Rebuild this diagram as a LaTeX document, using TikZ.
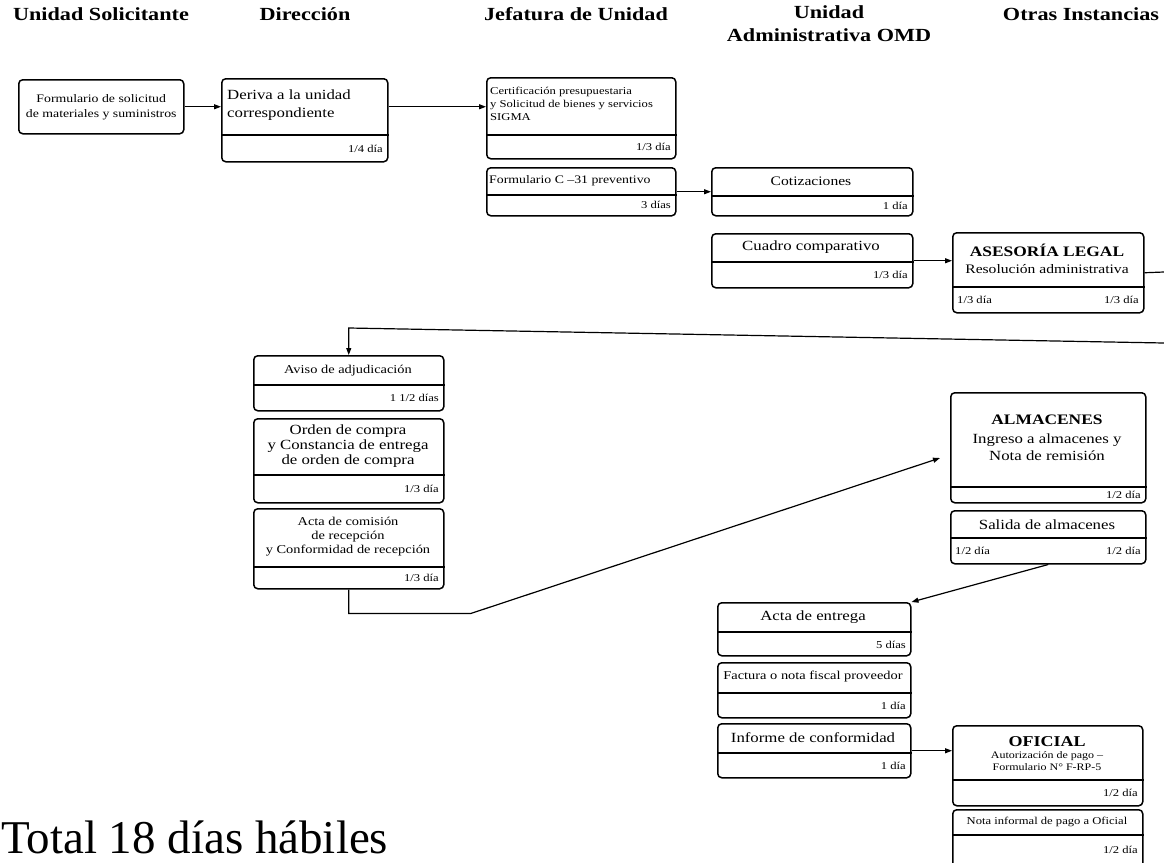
\documentclass[tikz,border=0pt]{standalone}
\usepackage{fontspec}
\setmainfont{Liberation Serif}[FakeStretch=1.2]
\newfontfamily\totalfont{Liberation Serif}
\usetikzlibrary{arrows.meta}

\tikzset{
  caja/.style={draw, rounded corners=4pt, line width=1.5pt},
  linea/.style={line width=1.5pt},
  flecha/.style={line width=1.2pt, -{Triangle[length=7pt,width=5pt]}},
  titulo/.style={font=\fontsize{18.5}{23}\selectfont\bfseries, inner sep=0pt},
  txt/.style={font=\fontsize{13}{15}\selectfont, align=center, inner sep=0pt},
  chico/.style={font=\fontsize{10.5}{13}\selectfont, align=left, inner sep=0pt},
  dur/.style={font=\fontsize{10.5}{12}\selectfont, inner sep=0pt},
  jefe/.style={font=\fontsize{14.5}{16}\selectfont\bfseries, inner sep=0pt}
}

% box with a dividing line: name, x1, y1, x2, y2, y of divider
\newcommand{\caja}[6]{%
  \node[caja, minimum width={#4-#2}, minimum height={#5-#3}, anchor=north west] (#1) at (#2,#3) {};
  \draw[linea] (#1.west |- 0,#6) -- (#1.east |- 0,#6);
}

\begin{document}
\begin{tikzpicture}[x=1pt,y=-1pt]
\useasboundingbox (0,0) rectangle (1164,862);

% column titles
\node[titulo, anchor=base] (t-sol) at (101,20) {Unidad Solicitante};
\node[titulo, anchor=base] (t-dir) at (305,20) {Dirección};
\node[titulo, anchor=base] (t-jef) at (576,20) {Jefatura de Unidad};
\node[titulo, anchor=north, align=center] (t-omd) at (829,5) {Unidad\\Administrativa OMD};
\node[titulo, anchor=base] (t-otr) at (1081,20) {Otras Instancias};

% Unidad Solicitante
\node[caja, minimum width=165, minimum height=54, anchor=north west] (sol) at (18,79) {};
\node[txt, font=\fontsize{11.5}{15}\selectfont] (sol-t) at (sol.center) {Formulario de solicitud\\de materiales y suministros};

% Direccion
\caja{der}{221}{78}{387}{161}{135}
\node[txt, align=left, anchor=west, font=\fontsize{14}{18}\selectfont] (der-t) at (227,105) {Deriva a la unidad\\correspondiente};
\node[dur, anchor=east] (der-d) at (383,149) {1/4 día};

% Jefatura de Unidad
\caja{cert}{486}{77}{675}{158}{135}
\node[chico, anchor=west] (cert-t) at (490,104) {Certificación presupuestaria\\y Solicitud de bienes y servicios\\SIGMA};
\node[dur, anchor=east] (cert-d) at (671,147) {1/3 día};

\caja{form}{486}{167}{675}{215}{195}
\node[chico, anchor=west, font=\fontsize{11.5}{13}\selectfont] (form-t) at (489,181) {Formulario C --31 preventivo};
\node[dur, anchor=east] (form-d) at (671,205) {3 días};

% Unidad Administrativa OMD
\caja{coti}{711}{167}{912}{215}{196}
\node[txt] (coti-t) at (811,181) {Cotizaciones};
\node[dur, anchor=east] (coti-d) at (908,206) {1 día};

\caja{cuad}{711}{233}{912}{287}{262}
\node[txt, font=\fontsize{14}{16}\selectfont] (cuad-t) at (811,247) {Cuadro comparativo};
\node[dur, anchor=east] (cuad-d) at (908,275) {1/3 día};

% Otras Instancias
\caja{ases}{952}{232}{1143}{312}{287}
\node[jefe] (ases-t) at (1047,250) {ASESORÍA LEGAL};
\node[txt] (ases-s) at (1047,269) {Resolución administrativa};
\node[dur, anchor=west] (ases-a) at (957,300) {1/3 día};
\node[dur, anchor=east] (ases-b) at (1139,300) {1/3 día};

% Direccion, second part
\caja{aviso}{253}{355}{443}{410}{385}
\node[txt, font=\fontsize{12}{14}\selectfont] (aviso-t) at (348,371) {Aviso de adjudicación};
\node[dur, anchor=east] (aviso-d) at (439,398) {1 1/2 días};

\caja{orden}{253}{418}{443}{502}{475}
\node[txt, font=\fontsize{14}{15}\selectfont] (orden-t) at (348,446) {Orden de compra\\y Constancia de entrega\\de orden de compra};
\node[dur, anchor=east] (orden-d) at (439,489) {1/3 día};

\caja{acta}{253}{508}{443}{588}{567}
\node[txt, font=\fontsize{12}{14}\selectfont] (acta-t) at (348,537) {Acta de comisión\\de recepción\\y Conformidad de recepción};
\node[dur, anchor=east] (acta-d) at (439,578) {1/3 día};

% Almacenes
\caja{alm}{950}{392}{1145}{502}{487}
\node[jefe] (alm-t) at (1047,420) {ALMACENES};
\node[txt, font=\fontsize{14}{17}\selectfont] (alm-s) at (1047,447) {Ingreso a almacenes y\\Nota de remisión};
\node[dur, anchor=east] (alm-d) at (1141,495) {1/2 día};

\caja{sal}{950}{510}{1145}{563}{538}
\node[txt, font=\fontsize{14}{16}\selectfont] (sal-t) at (1047,525) {Salida de almacenes};
\node[dur, anchor=west] (sal-a) at (955,551) {1/2 día};
\node[dur, anchor=east] (sal-b) at (1141,551) {1/2 día};

% Unidad Administrativa OMD, second part
\caja{ent}{717}{602}{910}{655}{632}
\node[txt, font=\fontsize{14}{16}\selectfont] (ent-t) at (813,617) {Acta de entrega};
\node[dur, anchor=east] (ent-d) at (906,645) {5 días};

\caja{fact}{717}{662}{910}{717}{693}
\node[txt, font=\fontsize{12}{14}\selectfont] (fact-t) at (813,677) {Factura o nota fiscal proveedor};
\node[dur, anchor=east] (fact-d) at (906,706) {1 día};

\caja{inf}{717}{723}{910}{777}{753}
\node[txt, font=\fontsize{14}{16}\selectfont] (inf-t) at (813,738) {Informe de conformidad};
\node[dur, anchor=east] (inf-d) at (906,766) {1 día};

% Oficial
\caja{ofi}{952}{725}{1142}{805}{780}
\node[jefe, font=\fontsize{15}{17}\selectfont\bfseries] (ofi-t) at (1047,742) {OFICIAL};
\node[txt, font=\fontsize{10}{11.5}\selectfont] (ofi-s) at (1047,761) {Autorización de pago --\\Formulario N° F-RP-5};
\node[dur, anchor=east] (ofi-d) at (1138,793) {1/2 día};

\caja{nota}{952}{809}{1142}{875}{835}
\node[txt, font=\fontsize{10.5}{12}\selectfont] (nota-t) at (1047,822) {Nota informal de pago a Oficial};
\node[dur, anchor=east] (nota-d) at (1138,850) {1/2 día};

% total
\node[font=\totalfont\fontsize{47}{52}\selectfont, anchor=base west, inner sep=0pt] (total) at (1,853) {Total 18 días hábiles};

% connectors
\coordinate (salida) at (1164,272);
\coordinate (vuelta) at (1164,343);
\coordinate (punta) at (940,458);
\draw[flecha] (sol.east) -- (sol.east -| der.west);
\draw[flecha] (der.east |- sol.east) -- (sol.east -| cert.west);
\draw[flecha] (form.east) -- (form.east -| coti.west);
\draw[flecha] (cuad.east) -- (cuad.east -| ases.west);
\draw[linea, line width=1.2pt] (ases.east) -- (salida);
\draw[flecha] (vuelta) -- (aviso.north |- 0,328) -- (aviso.north);
\draw[flecha] (acta.south) -- ++(0,24) -- ++(122,0) -- (punta);
\draw[flecha] (sal.south) -- (ent.north east);
\draw[flecha] (inf.east) -- (inf.east -| ofi.west);
\end{tikzpicture}
\end{document}
